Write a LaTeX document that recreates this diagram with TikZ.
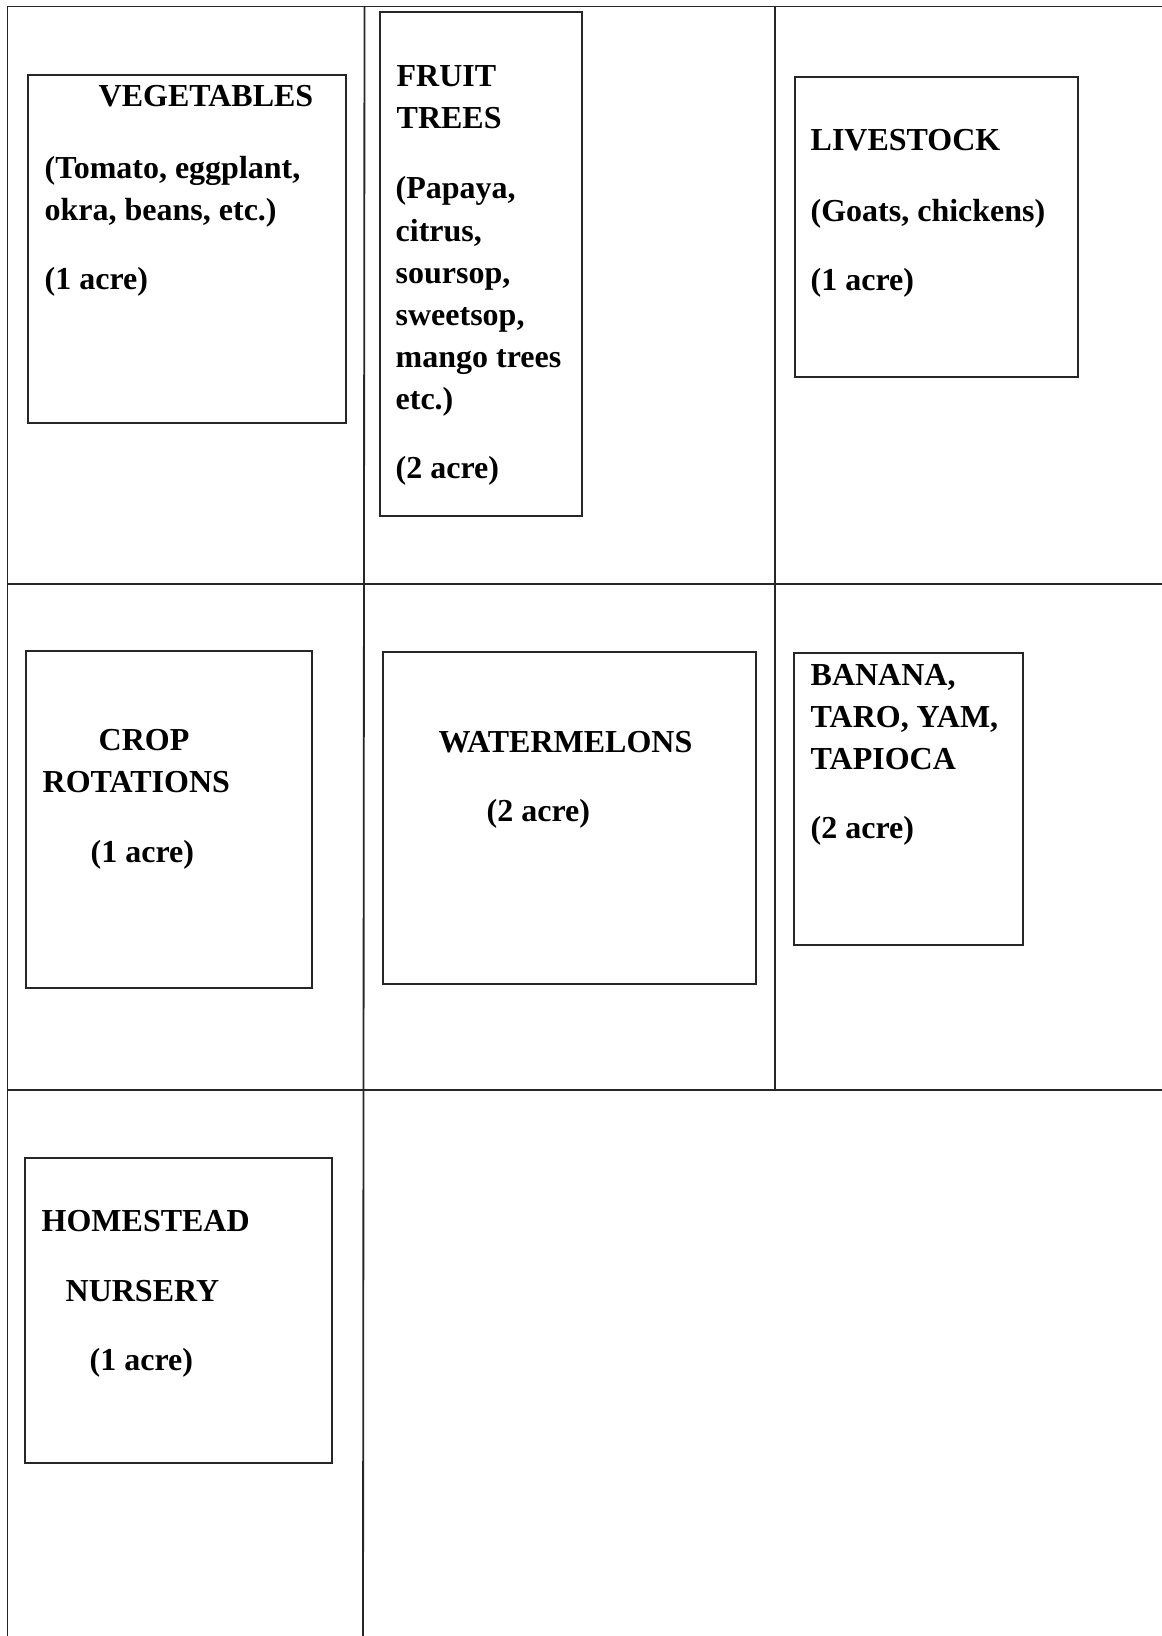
\documentclass[tikz,border=0pt]{standalone}
\usepackage{fontspec}
\setmainfont{Liberation Serif}
\usepackage{tikz}
\usetikzlibrary{positioning}

\begin{document}
\begin{tikzpicture}[x=0.3pt,y=-0.3pt,
    gridline/.style={line width=0.55pt,black!85},
    plotbox/.style={line width=0.45pt,black!85},
    lbl/.style={anchor=base west,inner sep=0pt,font=\bfseries\fontsize{9.6}{11.5}\selectfont}]
    \useasboundingbox (0,0) rectangle (1162,1636);
    % field grid
    \draw[gridline] (1162,6.5) -- (7.5,6.5) -- (7.5,1636);
    \draw[gridline] (7.5,584) -- (1162,584);
    \draw[gridline] (7.5,1090) -- (1162,1090);
    \draw[gridline] (364.5,6.5) -- (363,1636);
    \draw[gridline] (775,6.5) -- (775,1090);
    % plots
    \draw[plotbox] (28,75) rectangle (346,423);
    \draw[plotbox] (380,12) rectangle (582,516);
    \draw[plotbox] (795,77) rectangle (1078,377);
    \draw[plotbox] (26,651) rectangle (312,988);
    \draw[plotbox] (383,652) rectangle (756,984);
    \draw[plotbox] (794,653) rectangle (1023,945);
    \draw[plotbox] (25,1158) rectangle (332,1463);
    % vegetables
    \node[lbl] (vegTitle) at (98,107) {VEGETABLES};
    \node[lbl] (vegListA) at (44,178) {(Tomato, eggplant,};
    \node[lbl] (vegListB) at (44,220) {okra, beans, etc.)};
    \node[lbl] (vegArea) at (44,289) {(1 acre)};
    % fruit trees
    \node[lbl] (fruitTitleA) at (396,87) {FRUIT};
    \node[lbl] (fruitTitleB) at (396,129) {TREES};
    \node[lbl] (fruitListA) at (395,199) {(Papaya,};
    \node[lbl] (fruitListB) at (395,241) {citrus,};
    \node[lbl] (fruitListC) at (395,283) {soursop,};
    \node[lbl] (fruitListD) at (395,325) {sweetsop,};
    \node[lbl] (fruitListE) at (395,367) {mango trees};
    \node[lbl] (fruitListF) at (395,409) {etc.)};
    \node[lbl] (fruitArea) at (395,478) {(2 acre)};
    % livestock
    \node[lbl] (liveTitle) at (810,151) {LIVESTOCK};
    \node[lbl] (liveList) at (810,221) {(Goats, chickens)};
    \node[lbl] (liveArea) at (810,290) {(1 acre)};
    % crop rotations
    \node[lbl] (cropTitleA) at (98,750) {CROP};
    \node[lbl] (cropTitleB) at (42,792) {ROTATIONS};
    \node[lbl] (cropArea) at (90,862) {(1 acre)};
    % watermelons
    \node[lbl] (melonTitle) at (438,752) {WATERMELONS};
    \node[lbl] (melonArea) at (486,821) {(2 acre)};
    % roots and bananas
    \node[lbl] (rootTitleA) at (810,685) {BANANA,};
    \node[lbl] (rootTitleB) at (810,727) {TARO, YAM,};
    \node[lbl] (rootTitleC) at (810,769) {TAPIOCA};
    \node[lbl] (rootArea) at (810,838) {(2 acre)};
    % homestead
    \node[lbl] (homeTitleA) at (41,1231) {HOMESTEAD};
    \node[lbl] (homeTitleB) at (65,1301) {NURSERY};
    \node[lbl] (homeArea) at (89,1370) {(1 acre)};
\end{tikzpicture}
\end{document}
